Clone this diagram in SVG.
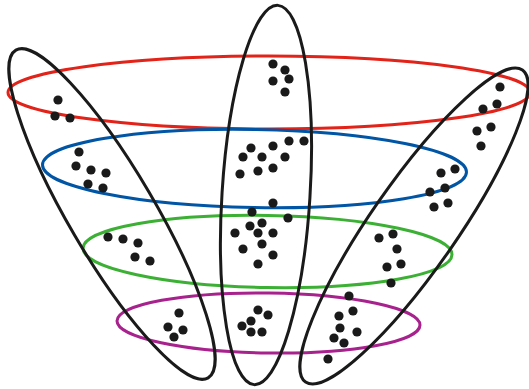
<svg xmlns="http://www.w3.org/2000/svg" width="529" height="389" viewBox="0 0 529 389">
<style>
.ring{fill:none;stroke-width:3}
.grp{fill:none;stroke:#1a1a1a;stroke-width:3}
.d circle{fill:#1a1a1a;r:4.6px}
</style>
<rect width="529" height="389" fill="#fff"/>
<g id="levels">
<ellipse id="red" class="ring" stroke="#e2231a" cx="269" cy="92.5" rx="261" ry="36.5"/>
<ellipse id="blue" class="ring" stroke="#0055a5" cx="254.5" cy="168.5" rx="212" ry="39" transform="rotate(1 254.5 168.5)"/>
<ellipse id="green" class="ring" stroke="#3cb034" cx="267.5" cy="251.5" rx="184.5" ry="36" transform="rotate(1 267.5 251.5)"/>
<ellipse id="magenta" class="ring" stroke="#a8228e" cx="268.5" cy="323" rx="151.5" ry="30" transform="rotate(0.8 268.5 323)"/>
</g>
<g id="clusters">
<ellipse id="left" class="grp" cx="112" cy="214" rx="190" ry="43" transform="rotate(59.6 112 214)"/>
<ellipse id="middle" class="grp" cx="266" cy="195" rx="44" ry="190" transform="rotate(3.6 266 195)"/>
<ellipse id="right" class="grp" cx="414" cy="226" rx="190" ry="43" transform="rotate(-55.2 414 226)"/>
</g>
<g id="dots" class="d">
<circle cx="58" cy="100" r="4.6"/><circle cx="55" cy="116" r="4.6"/><circle cx="70" cy="118" r="4.6"/>
<circle cx="79" cy="152" r="4.6"/><circle cx="76" cy="166" r="4.6"/><circle cx="91" cy="170" r="4.6"/><circle cx="106" cy="173" r="4.6"/><circle cx="88" cy="184" r="4.6"/><circle cx="103" cy="188" r="4.6"/>
<circle cx="108" cy="237" r="4.6"/><circle cx="123" cy="239" r="4.6"/><circle cx="138" cy="243" r="4.6"/><circle cx="135" cy="257" r="4.6"/><circle cx="150" cy="261" r="4.6"/>
<circle cx="179" cy="313" r="4.6"/><circle cx="168" cy="327" r="4.6"/><circle cx="183" cy="330" r="4.6"/><circle cx="174" cy="337" r="4.6"/>
<circle cx="273" cy="64" r="4.6"/><circle cx="285" cy="70" r="4.6"/><circle cx="273" cy="81" r="4.6"/><circle cx="289" cy="79" r="4.6"/><circle cx="285" cy="92" r="4.6"/>
<circle cx="251" cy="148" r="4.6"/><circle cx="273" cy="146" r="4.6"/><circle cx="289" cy="141" r="4.6"/><circle cx="304" cy="141" r="4.6"/><circle cx="243" cy="157" r="4.6"/><circle cx="262" cy="157" r="4.6"/><circle cx="285" cy="157" r="4.6"/><circle cx="240" cy="174" r="4.6"/><circle cx="258" cy="171" r="4.6"/><circle cx="273" cy="168" r="4.6"/>
<circle cx="273" cy="203" r="4.6"/><circle cx="252" cy="212" r="4.6"/><circle cx="288" cy="218" r="4.6"/><circle cx="262" cy="223" r="4.6"/><circle cx="250" cy="226" r="4.6"/><circle cx="235" cy="233" r="4.6"/><circle cx="258" cy="233" r="4.6"/><circle cx="273" cy="233" r="4.6"/><circle cx="262" cy="244" r="4.6"/><circle cx="243" cy="249" r="4.6"/><circle cx="273" cy="255" r="4.6"/><circle cx="258" cy="264" r="4.6"/>
<circle cx="258" cy="310" r="4.6"/><circle cx="268" cy="315" r="4.6"/><circle cx="251" cy="321" r="4.6"/><circle cx="242" cy="326" r="4.6"/><circle cx="251" cy="332" r="4.6"/><circle cx="262" cy="332" r="4.6"/>
<circle cx="500" cy="87" r="4.6"/><circle cx="497" cy="104" r="4.6"/><circle cx="483" cy="109" r="4.6"/><circle cx="491" cy="127" r="4.6"/><circle cx="477" cy="131" r="4.6"/><circle cx="481" cy="146" r="4.6"/>
<circle cx="455" cy="169" r="4.6"/><circle cx="441" cy="173" r="4.6"/><circle cx="445" cy="188" r="4.6"/><circle cx="430" cy="192" r="4.6"/><circle cx="434" cy="207" r="4.6"/><circle cx="448" cy="203" r="4.6"/>
<circle cx="379" cy="238" r="4.6"/><circle cx="393" cy="234" r="4.6"/><circle cx="397" cy="249" r="4.6"/><circle cx="387" cy="267" r="4.6"/><circle cx="401" cy="264" r="4.6"/><circle cx="391" cy="283" r="4.6"/>
<circle cx="349" cy="296" r="4.6"/><circle cx="353" cy="311" r="4.6"/><circle cx="339" cy="316" r="4.6"/><circle cx="340" cy="328" r="4.6"/><circle cx="357" cy="332" r="4.6"/><circle cx="334" cy="338" r="4.6"/><circle cx="344" cy="343" r="4.6"/><circle cx="328" cy="359" r="4.6"/>
</g>
</svg>
